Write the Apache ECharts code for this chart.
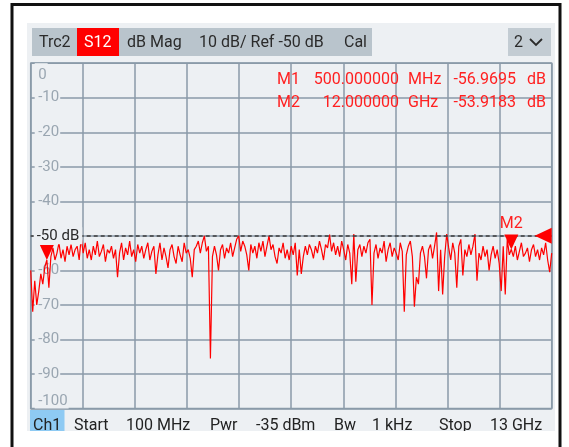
<!DOCTYPE html>
<html lang="en" style="background: #FFFFFF;height: 100%">

<head>
    <meta charset="utf-8" />
    <title>S12 trace</title>
    <script type="text/javascript" src="https://cdn.jsdelivr.net/npm/echarts@6/dist/echarts.min.js"></script>
</head>

<body style="margin: 0;height: 100%">
    <div id="chart" style="width:569px;height:447px"></div>
    <script>
    // sweep 100 MHz .. 13 GHz, one point every 50 MHz
    let startGHz = 0.1
    let stepGHz = 0.05
    let traceDb = [
        -60, -72, -63, -70, -66, -61, -64, -59, -57.0, -65,
        -56, -53.5, -57, -55, -52, -56.5, -54, -57.5, -53, -55.5,
        -52.5, -56, -54, -53, -57, -50.5, -55, -52, -56.5, -54,
        -57, -53, -55.5, -51.5, -56, -54.5, -52.5, -57.5, -54, -55,
        -53, -56.5, -54, -62, -55, -52, -57, -53.5, -55.5, -51.5,
        -56, -54, -57.5, -52.5, -55, -53, -56.5, -54, -52, -57,
        -54.5, -53, -61, -55.5, -52, -57, -53.5, -56, -59.3, -54,
        -52.5, -56, -58, -53, -55.5, -57.5, -52, -55, -54, -56.5,
        -62, -54, -53, -51.5, -55, -52, -50, -54.5, -53, -85.5,
        -56, -53, -55.5, -60, -54, -52.5, -56.5, -53.5, -55, -52,
        -56, -53.5, -51, -50, -54.5, -51.5, -53, -55.5, -60, -52.5,
        -55, -53, -56.5, -52, -54.5, -51.5, -56, -53, -50, -54,
        -52.5, -56, -58, -53.5, -55, -52, -56.5, -54, -57, -53,
        -55.5, -52, -61.5, -54, -61, -56, -53, -55.5, -52.5, -54,
        -56.5, -53, -55, -51.5, -54, -57, -52.5, -53.5, -49.6, -54.5,
        -52, -55.5, -53, -56, -51.5, -54, -57, -52.5, -55, -64,
        -49.5, -63.3, -54, -52.5, -56, -53, -55, -52, -51, -70,
        -55, -52.5, -56.5, -53.5, -55, -51.5, -57.5, -54, -52, -56,
        -53.5, -55, -57, -52, -54.5, -72, -55.5, -53, -51.5, -56,
        -70.5, -62, -64, -55, -53, -56, -62.3, -54, -52.5, -56.5,
        -53, -49, -66, -54, -67, -56, -49.5, -53.5, -57, -52,
        -55, -65, -53, -51, -61.5, -54, -56, -52.5, -55.5, -53,
        -49.5, -63, -55, -57, -53, -56, -54, -60, -55.5, -53,
        -56.5, -54, -58, -66, -53, -67, -51, -55.5, -53.9, -56,
        -53, -57, -54.5, -52, -56, -55, -53.5, -57.5, -54, -52.5,
        -56, -54, -57, -53.5, -55.5, -52, -57, -60.5, -55
    ]

    let markerNames = ['M1', 'M2']
    let markerGHz = [0.5, 12]
    let markerDb = [-56.9695, -53.9183]
    let markerFreqText = ['500.000000', '12.000000']
    let markerUnit = ['MHz', 'GHz']
    let refLevel = -50
    let stopGHz = 13

    let headerTexts = [['Trc2', 39], ['dB Mag', 127], ['10 dB/ Ref -50 dB', 199], ['Cal', 344]]
    let statusTexts = [['Start', 74], ['100 MHz', 126], ['Pwr', 210], ['-35 dBm', 256],
        ['Bw', 334], ['1 kHz', 372], ['Stop', 439], ['13 GHz', 490]]

    let font = 'Roboto'
    let bg = '#edf0f3'
    let gridColor = '#8a9aa8'
    let red = '#ff0000'
    let statusY = 426

    let traceData = traceDb.map((v, i) => [startGHz + i * stepGHz, v])

    let graphics = [
        { type: 'rect', z: -10, shape: { x: 27, y: 23, width: 528, height: 408 }, style: { fill: bg } },
        { type: 'rect', z: 5, shape: { x: 32, y: 28, width: 340, height: 28 }, style: { fill: '#b9c4cc' } },
        { type: 'rect', z: 6, shape: { x: 77, y: 28, width: 42, height: 28 }, style: { fill: red } },
        { type: 'rect', z: 5, shape: { x: 508, y: 28, width: 43, height: 28 }, style: { fill: '#c3ccd3' } },
        { type: 'text', z: 7, style: { text: 'S12', x: 84, y: 42.5, fill: '#fff', font: '16px ' + font, verticalAlign: 'middle', textVerticalAlign: 'middle' } },
        { type: 'text', z: 7, style: { text: '2', x: 514, y: 42.5, fill: '#2b2b2b', font: '16px ' + font, verticalAlign: 'middle', textVerticalAlign: 'middle' } },
        { type: 'polyline', z: 7, shape: { points: [[530, 39], [536, 45], [542, 39]] }, style: { stroke: '#2b2b2b', lineWidth: 1.8, fill: null } },
        { type: 'rect', z: 5, shape: { x: 30, y: 410, width: 34.5, height: 22 }, style: { fill: '#8ecaf3' } },
        { type: 'text', z: 7, style: { text: 'Ch1', x: 33, y: statusY, fill: '#222', font: '16px ' + font, verticalAlign: 'middle', textVerticalAlign: 'middle' } },
        { type: 'rect', z: 99, shape: { x: 13.5, y: 431, width: 545, height: 20 }, style: { fill: '#fff' } },
        { type: 'rect', z: 100, shape: { x: 12, y: 4.5, width: 548, height: 470 }, style: { fill: null, stroke: '#111', lineWidth: 3 } }
    ]
    headerTexts.forEach(t => {
        graphics.push({ type: 'text', z: 7, style: { text: t[0], x: t[1], y: 42.5, fill: '#2b2b2b', font: '16px ' + font, verticalAlign: 'middle', textVerticalAlign: 'middle' } })
    })
    statusTexts.forEach(t => {
        graphics.push({ type: 'text', z: 7, style: { text: t[0], x: t[1], y: statusY, fill: '#222', font: '16px ' + font, verticalAlign: 'middle', textVerticalAlign: 'middle' } })
    })
    // marker readout table
    markerNames.forEach((name, i) => {
        let y = 80 + i * 22.5
        let cols = [
            [name, 277, 'left'],
            [markerFreqText[i], 399, 'right'],
            [markerUnit[i], 408, 'left'],
            [markerDb[i].toFixed(4), 516, 'right'],
            ['dB', 527, 'left']
        ]
        cols.forEach(c => {
            graphics.push({ type: 'text', z: 7, style: { text: c[0], x: c[1], y: y, fill: '#ff2020', font: '16px ' + font, align: c[2], textAlign: c[2], verticalAlign: 'middle', textVerticalAlign: 'middle' } })
        })
    })

    let chart = echarts.init(document.getElementById('chart'), null, { renderer: 'canvas' })
    chart.setOption({
        animation: false,
        backgroundColor: '#ffffff',
        grid: {
            left: 30.7, right: 17.3, top: 63.2, bottom: 38.5,
            show: true, backgroundColor: bg, borderColor: gridColor, borderWidth: 1.5,
            outerBoundsMode: 'none'
        },
        xAxis: [{
            type: 'value', min: startGHz, max: stopGHz,
            axisLine: { show: false }, axisTick: { show: false }, axisLabel: { show: false }, splitLine: { show: false }
        }, {
            // 10 divisions across the sweep
            type: 'value', min: 0, max: 10, interval: 1, position: 'bottom',
            axisLine: { show: false }, axisTick: { show: false }, axisLabel: { show: false },
            splitLine: { show: true, lineStyle: { color: gridColor, width: 1.5 } }
        }],
        yAxis: [{
            type: 'value', min: -100, max: 0, interval: 10, position: 'left',
            axisLine: { show: false }, axisTick: { show: false },
            splitLine: { show: true, lineStyle: { color: gridColor, width: 1.5 } },
            axisLabel: {
                inside: true, margin: 4, color: '#9aa6b1', fontSize: 15, fontFamily: font,
                backgroundColor: bg, padding: [0, 1, 0, 3.5],
                verticalAlignMaxLabel: 'top', verticalAlignMinLabel: 'bottom',
                formatter: v => v === refLevel ? '' : (v === 0 ? '{t|0}' : String(v)),
                rich: { t: { color: '#9aa6b1', fontSize: 15, fontFamily: font, padding: [5, 0, 0, 0] } }
            }
        }, {
            type: 'value', min: -100, max: 0, interval: 10, position: 'left', offset: 0, z: 10,
            axisLine: { show: false }, axisTick: { show: false }, splitLine: { show: false },
            axisLabel: {
                inside: true, margin: 3, fontFamily: font,
                formatter: v => v === refLevel ? '{r|-50 dB}' : '',
                rich: { r: { color: '#2a2a2a', fontSize: 15, fontFamily: font, backgroundColor: bg, padding: [1, 3, 1, 3] } }
            }
        }],
        series: [{
            type: 'line',
            data: traceData,
            showSymbol: false,
            lineStyle: { color: red, width: 1.2 },
            emphasis: { disabled: true },
            markLine: {
                silent: true, symbol: ['none', 'none'], label: { show: false },
                lineStyle: { color: '#3c3c3c', type: [4, 3], width: 1.5 },
                data: [[{ coord: [startGHz, refLevel] }, { coord: [stopGHz, refLevel] }]]
            },
            markPoint: {
                silent: true,
                itemStyle: { color: red },
                data: [
                    { name: markerNames[0], coord: [markerGHz[0], markerDb[0]], symbol: 'triangle', symbolRotate: 180, symbolSize: [14, 15], symbolOffset: [0, -7.5], label: { show: false } },
                    { name: markerNames[1], coord: [markerGHz[1], markerDb[1]], symbol: 'triangle', symbolRotate: 180, symbolSize: [14, 15], symbolOffset: [0, -7.5],
                        label: { show: true, position: 'top', distance: 2, formatter: markerNames[1], color: '#ff2020', fontSize: 16, fontFamily: font } },
                    { name: 'ref', coord: [stopGHz, refLevel], symbol: 'triangle', symbolRotate: 90, symbolSize: [16, 17], symbolOffset: [-8.5, 0], label: { show: false } }
                ]
            }
        }],
        graphic: graphics
    })
    </script>
</body>

</html>
